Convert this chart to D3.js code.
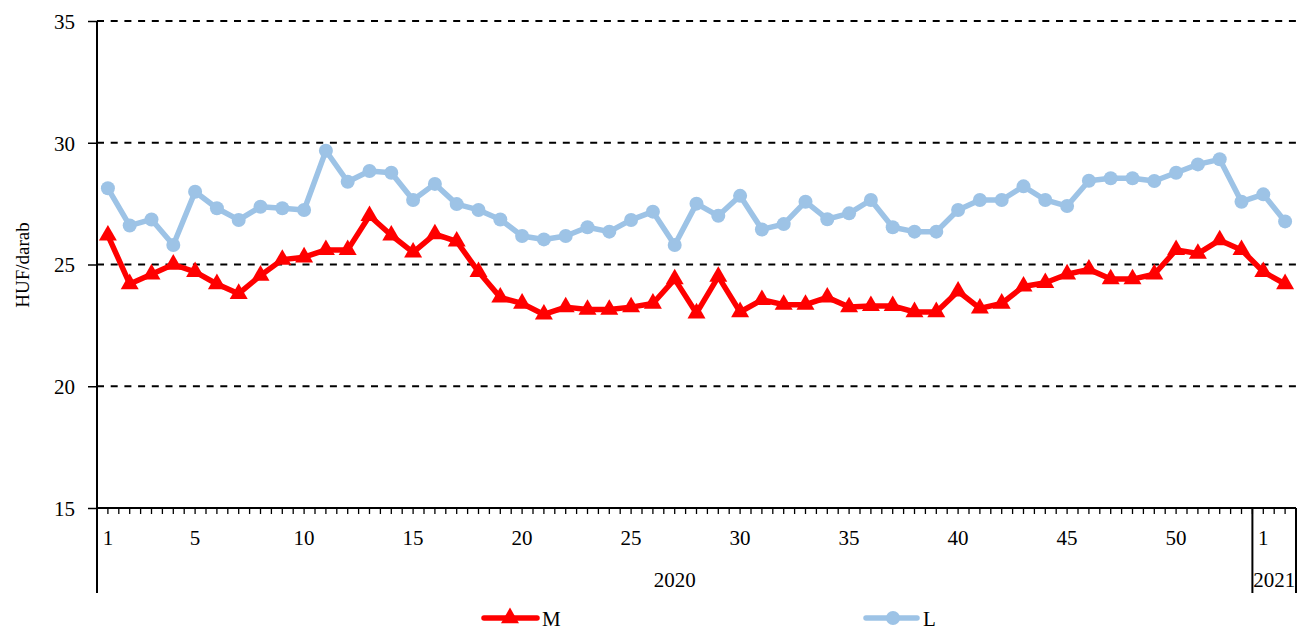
<!DOCTYPE html>
<html><head><meta charset="utf-8">
<script src="https://cdn.jsdelivr.net/npm/d3@7"></script>
<style>body{margin:0;background:#fff}svg{display:block}svg text{font-family:"Liberation Serif","DejaVu Serif",serif !important;fill:#000}</style>
</head><body><svg id="c" width="1299" height="630"></svg>
<script>
const weeks = ["1","2","3","4","5","6","7","8","9","10","11","12","13","14","15","16","17","18","19","20","21","22","23","24","25","26","27","28","29","30","31","32","33","34","35","36","37","38","39","40","41","42","43","44","45","46","47","48","49","50","51","52","53","1","2"];
const years = ["2020","2020","2020","2020","2020","2020","2020","2020","2020","2020","2020","2020","2020","2020","2020","2020","2020","2020","2020","2020","2020","2020","2020","2020","2020","2020","2020","2020","2020","2020","2020","2020","2020","2020","2020","2020","2020","2020","2020","2020","2020","2020","2020","2020","2020","2020","2020","2020","2020","2020","2020","2020","2020","2021","2021"];
const M = [26.2,24.2,24.6,25.0,24.7,24.2,23.8,24.55,25.2,25.3,
           25.6,25.6,27.0,26.2,25.5,26.25,25.95,24.7,23.65,23.4,
           22.95,23.25,23.15,23.15,23.25,23.4,24.4,23.0,24.5,23.05,
           23.55,23.35,23.35,23.65,23.25,23.3,23.3,23.05,23.05,23.9,
           23.2,23.4,24.1,24.25,24.6,24.8,24.4,24.4,24.6,25.6,
           25.45,26.0,25.6,24.7,24.2];
const L = [28.13,26.6,26.85,25.8,27.99,27.31,26.83,27.37,27.31,27.24,
           29.67,28.4,28.84,28.77,27.65,28.31,27.48,27.24,26.85,26.17,
           26.03,26.17,26.53,26.35,26.83,27.17,25.8,27.5,27.0,27.82,
           26.44,26.66,27.58,26.86,27.1,27.65,26.53,26.35,26.35,27.24,
           27.65,27.65,28.21,27.65,27.4,28.44,28.54,28.54,28.43,28.77,
           29.11,29.32,27.58,27.88,26.77];
const yTicks = [15,20,25,30,35];
const shownWeekLabels = ["2020-1","2020-5","2020-10","2020-15","2020-20","2020-25","2020-30","2020-35","2020-40","2020-45","2020-50","2021-1"];
const seriesNames = ["M","L"];

(function(){
const FONT = '"Liberation Serif", "DejaVu Serif", serif';
const keys = weeks.map((w,i)=>years[i]+"-"+w);
const svg = d3.select("#c");
const pL=97, pR=1296, pT=21, pB=508;
const x = d3.scaleBand().domain(keys).range([pL,pR]);
const y = d3.scaleLinear().domain([15,35]).range([pB,pT]);
const cx = k => x(k)+x.bandwidth()/2;

svg.append("g").selectAll("line").data(yTicks.filter(t=>t>15)).join("line")
  .attr("x1",pL).attr("x2",pR).attr("y1",d=>y(d)).attr("y2",d=>y(d))
  .attr("stroke","#000").attr("stroke-width",2).attr("stroke-dasharray","7,6.7");

const ya = svg.append("g").attr("transform",`translate(${pL},0)`)
  .call(d3.axisLeft(y).tickValues(yTicks).tickSize(9).tickPadding(13).tickFormat(d3.format("d")));
ya.attr("font-family",FONT);
ya.select(".domain").remove();
ya.selectAll(".tick line").attr("stroke","#000").attr("stroke-width",1.5);
ya.selectAll("text").style("font-size","21px").style("font-family",FONT).attr("dy","0.35em");
svg.append("line").attr("x1",pL).attr("x2",pL).attr("y1",pT).attr("y2",593).attr("stroke","#000").attr("stroke-width",2);

svg.append("line").attr("x1",pL).attr("x2",pR).attr("y1",pB).attr("y2",pB).attr("stroke","#000").attr("stroke-width",2);
const half = [];
keys.forEach(k=>{half.push(x(k)); half.push(cx(k));});
half.push(pR);
svg.append("g").selectAll("line").data(half.slice(1)).join("line")
  .attr("x1",d=>d).attr("x2",d=>d).attr("y1",pB).attr("y2",pB+6)
  .attr("stroke","#000").attr("stroke-width",1.3);
svg.append("g").selectAll("text").data(shownWeekLabels).join("text")
  .attr("x",d=>cx(d)).attr("y",545).attr("text-anchor","middle").style("font-size","21px").style("font-family",FONT)
  .text(d=>d.split("-")[1]);
const yearGroups = d3.groups(keys, k=>k.split("-")[0]);
const sepX = [x("2021-1"), pR];
svg.append("g").selectAll("line").data(sepX).join("line")
  .attr("x1",d=>d).attr("x2",d=>d).attr("y1",pB).attr("y2",593).attr("stroke","#000").attr("stroke-width",2);
svg.append("g").selectAll("text").data(yearGroups).join("text")
  .attr("x",g=>(x(g[1][0])+x(g[1][g[1].length-1])+x.bandwidth())/2).attr("y",587)
  .attr("text-anchor","middle").style("font-size","21px").style("font-family",FONT).text(g=>g[0]);

svg.append("text").attr("transform","translate(29,265) rotate(-90)").attr("text-anchor","middle")
  .style("font-size","19px").style("font-family",FONT).text("HUF/darab");

const line = d3.line().x((d,i)=>cx(keys[i])).y(d=>y(d));
const tri = d3.symbol().type(d3.symbolTriangle).size(140);
svg.append("path").datum(L).attr("d",line).attr("fill","none").attr("stroke","#9DC3E6").attr("stroke-width",5.5).attr("stroke-linejoin","round");
svg.append("g").selectAll("circle").data(L).join("circle").attr("cx",(d,i)=>cx(keys[i])).attr("cy",d=>y(d)).attr("r",7).attr("fill","#9DC3E6");
svg.append("path").datum(M).attr("d",line).attr("fill","none").attr("stroke","#FF0000").attr("stroke-width",5.5).attr("stroke-linejoin","round");
svg.append("g").selectAll("path").data(M).join("path").attr("d",tri).attr("transform",(d,i)=>`translate(${cx(keys[i])},${y(d)})`).attr("fill","#FF0000");

const lg = svg.append("g");
lg.append("line").attr("x1",484).attr("x2",537).attr("y1",618).attr("y2",618).attr("stroke","#FF0000").attr("stroke-width",5.5).attr("stroke-linecap","round");
lg.append("path").attr("d",tri).attr("transform","translate(510,618)").attr("fill","#FF0000");
lg.append("text").attr("x",542).attr("y",626).style("font-size","21px").style("font-family",FONT).text(seriesNames[0]);
lg.append("line").attr("x1",866).attr("x2",917).attr("y1",618).attr("y2",618).attr("stroke","#9DC3E6").attr("stroke-width",5.5).attr("stroke-linecap","round");
lg.append("circle").attr("cx",893).attr("cy",618).attr("r",7).attr("fill","#9DC3E6");
lg.append("text").attr("x",923).attr("y",626).style("font-size","21px").style("font-family",FONT).text(seriesNames[1]);
})();
</script></body></html>
